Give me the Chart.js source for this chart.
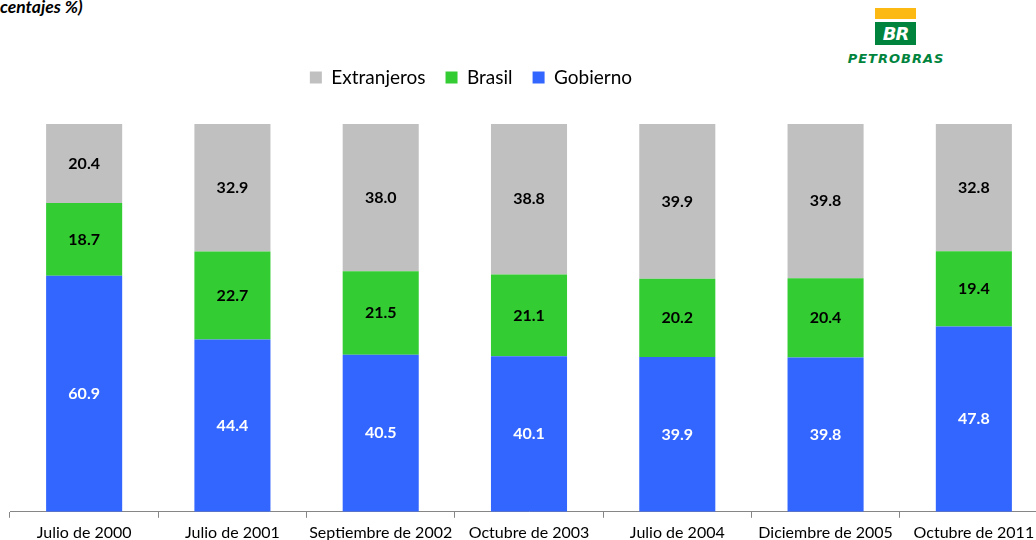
<!DOCTYPE html>
<html>
<head>
<meta charset="utf-8">
<script src="https://cdn.jsdelivr.net/npm/chart.js@4"></script>
<style>
    html, body { margin: 0; padding: 0; background: #fff; overflow: hidden; width: 1036px; height: 540px; }
    #wrap { position: absolute; left: -106px; top: 0; width: 1154px; height: 549px; }
    .subtitle { position: absolute; left: 0; top: -4px; font: italic bold 17.5px Lato, sans-serif; color: #000; white-space: nowrap; }
    .logo-bar { position: absolute; left: 875px; top: 8px; width: 41px; height: 11px; background: #fdb913; }
    .logo-box { position: absolute; left: 875px; top: 22px; width: 41px; height: 23px; background: #00843d; color: #fff;
        font: italic 900 18px "DejaVu Sans", sans-serif; text-align: center; line-height: 23px; letter-spacing: -1px; }
    .logo-name { position: absolute; left: 843px; top: 51px; width: 106px; text-align: center; color: #00843d;
        font: italic bold 13px "DejaVu Sans", sans-serif; letter-spacing: 1px; }
</style>
</head>
<body>
<div class="subtitle">centajes %)</div>
<div class="logo-bar"></div>
<div class="logo-box">BR</div>
<div class="logo-name">PETROBRAS</div>
<div id="wrap"><canvas id="accionistasChart"></canvas></div>
<script>
const categorias = ['Julio de 2000', 'Julio de 2001', 'Septiembre de 2002', 'Octubre de 2003', 'Julio de 2004', 'Diciembre de 2005', 'Octubre de 2011'];
const gobierno = [60.9, 44.4, 40.5, 40.1, 39.9, 39.8, 47.8];
const brasil = [18.7, 22.7, 21.5, 21.1, 20.2, 20.4, 19.4];
const extranjeros = [20.4, 32.9, 38.0, 38.8, 39.9, 39.8, 32.8];

document.addEventListener('DOMContentLoaded', function () {
    const ctx = document.getElementById('accionistasChart');

    const valueLabels = {
        id: 'valueLabels',
        afterDatasetsDraw(chart) {
            const c = chart.ctx;
            c.save();
            c.font = 'bold 16px Lato, sans-serif';
            c.textAlign = 'center';
            c.textBaseline = 'middle';
            chart.data.datasets.forEach((ds, i) => {
                const meta = chart.getDatasetMeta(i);
                if (meta.hidden) return;
                meta.data.forEach((bar, j) => {
                    c.fillStyle = ds.labelColor;
                    c.fillText(ds.data[j].toFixed(1), bar.x, (bar.y + bar.base) / 2);
                });
            });
            c.restore();
        }
    };

    const legendMargin = {
        id: 'legendMargin',
        beforeInit(chart) {
            const fit = chart.legend.fit;
            chart.legend.fit = function () {
                fit.bind(chart.legend)();
                this.height += 27;
            };
        }
    };

    new Chart(ctx, {
        type: 'bar',
        data: {
            labels: categorias,
            datasets: [
                { label: 'Gobierno', data: gobierno, backgroundColor: '#3366ff', labelColor: '#ffffff' },
                { label: 'Brasil', data: brasil, backgroundColor: '#33cc33', labelColor: '#000000' },
                { label: 'Extranjeros', data: extranjeros, backgroundColor: '#c0c0c0', labelColor: '#000000' }
            ]
        },
        options: {
            responsive: true,
            maintainAspectRatio: false,
            animation: false,
            datasets: { bar: { barPercentage: 0.513, categoryPercentage: 1 } },
            layout: { padding: { top: 48, bottom: 2, left: 0, right: 0 } },
            plugins: {
                tooltip: { enabled: false },
                legend: {
                    position: 'top',
                    reverse: true,
                    labels: {
                        boxWidth: 12,
                        boxHeight: 12,
                        padding: 20,
                        color: '#000',
                        font: { family: 'Lato, sans-serif', size: 19 }
                    }
                }
            },
            scales: {
                x: {
                    stacked: true,
                    grid: { offset: true, drawOnChartArea: false, drawTicks: true, tickLength: 6, color: '#868686' },
                    border: { color: '#868686' },
                    ticks: { color: '#000', padding: 5, font: { family: 'Lato, sans-serif', size: 16 }, maxRotation: 0, autoSkip: false }
                },
                y: {
                    stacked: true,
                    min: 0,
                    max: 100,
                    grid: { display: false },
                    border: { display: false },
                    ticks: { display: false },
                    afterFit(scale) { scale.width = 116; }
                }
            }
        },
        plugins: [valueLabels, legendMargin]
    });
});
</script>
</body>
</html>
